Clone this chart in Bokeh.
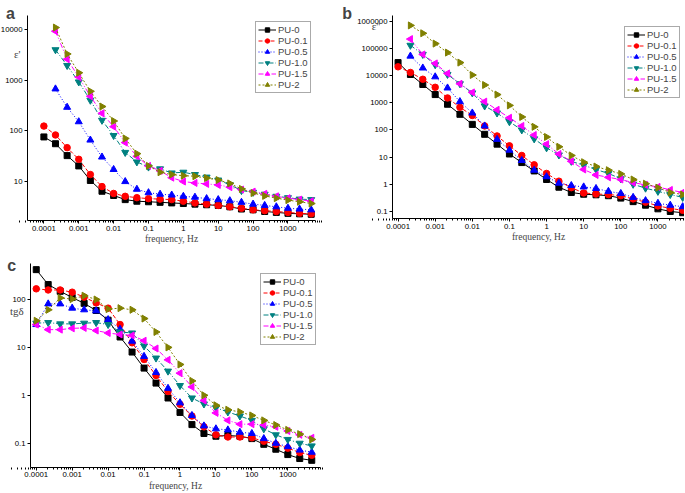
import math
from bokeh.plotting import figure
from bokeh.layouts import column, row
from bokeh.models import Range1d, FixedTicker, NumeralTickFormatter, Label
from bokeh.embed import file_html
from bokeh.resources import INLINE

# ---------------- data ----------------
freq = [0.0001, 0.000215, 0.000464, 0.001, 0.00215, 0.00464, 0.01, 0.0215, 0.0464,
        0.1, 0.215, 0.464, 1, 2.15, 4.64, 10, 21.5, 46.4, 100, 215, 464, 1000, 2150, 4640]

names = ["PU-0", "PU-0.1", "PU-0.5", "PU-1.0", "PU-1.5", "PU-2"]

# panel a: epsilon'  (PU-0.5 ... PU-2 start at the 2nd frequency)
a_pu0 = [75, 55, 32, 20, 10.3, 6.3, 5.2, 4.3, 4.0, 3.9, 3.8, 3.7, 3.6, 3.5, 3.4, 3.3, 3.1, 2.8, 2.7, 2.5, 2.4, 2.3, 2.25, 2.2]
a_pu01 = [123, 82, 46, 27, 13.5, 7.8, 5.7, 5.0, 4.7, 4.5, 4.4, 4.3, 4.0, 3.7, 3.5, 3.3, 3.1, 2.9, 2.7, 2.6, 2.5, 2.4, 2.3, 2.25]
a_pu05 = [670, 290, 150, 65, 30, 17, 9.8, 6.9, 5.9, 5.5, 5.3, 5.0, 4.8, 4.5, 4.3, 4.1, 3.8, 3.5, 3.3, 3.1, 2.9, 2.8, 2.7]
a_pu10 = [4000, 1950, 920, 400, 160, 80, 37, 24, 19, 17.5, 14.5, 15, 13.5, 12, 10.5, 8.5, 6.5, 6.0, 5.5, 5.0, 4.7, 4.4, 4.3]
a_pu15 = [9300, 2600, 1150, 480, 220, 120, 58, 31, 20, 16, 11.7, 9.8, 9.2, 8.8, 8.4, 7.6, 6.8, 6.2, 5.6, 5.0, 4.6, 4.3, 4.0]
a_pu2 = [11000, 3300, 1400, 600, 300, 155, 70, 35, 20, 15, 13.5, 12.8, 12.5, 11.5, 10.5, 9.0, 7.0, 5.8, 5.1, 4.6, 4.2, 3.9, 3.6]

# panel b: epsilon''
b_pu0 = [30000, 11000, 4700, 2000, 880, 375, 160, 69, 30, 13, 6.3, 3.1, 1.5, 0.78, 0.5, 0.43, 0.41, 0.38, 0.31, 0.23, 0.17, 0.125, 0.1, 0.09]
b_pu01 = [21000, 13000, 7300, 3700, 1500, 680, 340, 140, 60, 26, 11.5, 5.2, 2.5, 1.3, 0.75, 0.48, 0.44, 0.42, 0.38, 0.29, 0.22, 0.16, 0.13, 0.11]
b_pu05 = [52000, 19000, 9000, 3500, 1100, 420, 140, 45, 18, 7.5, 3.3, 1.9, 1.1, 0.9, 0.8, 0.7, 0.55, 0.46, 0.33, 0.25, 0.2, 0.17, 0.15]
b_pu10 = [130000, 60000, 25000, 11000, 5000, 2300, 760, 420, 200, 100, 47, 22, 12, 7, 5, 3.5, 2.5, 1.6, 1.0, 0.72, 0.55, 0.42, 0.33]
b_pu15 = [220000, 60000, 28000, 12000, 5000, 2400, 1100, 550, 280, 140, 65, 30, 13, 7, 3.5, 2.2, 1.8, 1.5, 1.15, 0.95, 0.8, 0.62, 0.5]
b_pu2 = [700000, 360000, 150000, 70000, 30000, 10500, 4500, 2000, 800, 300, 130, 55, 24, 11.5, 6.5, 4.5, 3.3, 2.4, 1.5, 1.05, 0.75, 0.5, 0.42]

# panel c: tg delta (all series start at the 1st frequency)
c_pu0 = [420, 205, 148, 110, 83, 59, 37, 16.5, 8, 3.7, 1.8, 0.88, 0.44, 0.245, 0.16, 0.14, 0.145, 0.14, 0.125, 0.095, 0.075, 0.058, 0.048, 0.044]
c_pu01 = [167, 158, 158, 142, 112, 85, 66, 30, 12.5, 5.6, 2.6, 1.2, 0.65, 0.37, 0.22, 0.15, 0.135, 0.135, 0.13, 0.11, 0.095, 0.079, 0.064, 0.056]
c_pu05 = [30, 81, 81, 66, 61, 58, 38, 24, 13.5, 6.5, 3.0, 1.4, 0.7, 0.38, 0.23, 0.2, 0.19, 0.17, 0.16, 0.125, 0.1, 0.085, 0.072, 0.065]
c_pu10 = [32, 33, 31, 31, 32, 33, 30, 21, 20, 10.7, 6.0, 3.2, 1.6, 0.88, 0.66, 0.55, 0.45, 0.37, 0.3, 0.2, 0.15, 0.12, 0.1, 0.088]
c_pu15 = [30, 23.5, 23.5, 25, 25.5, 22.5, 20, 18.6, 17.8, 13.8, 9.5, 5.5, 2.9, 1.5, 0.78, 0.43, 0.3, 0.25, 0.25, 0.24, 0.22, 0.18, 0.15, 0.13]
c_pu2 = [36, 61, 108, 102, 120, 100, 63, 66, 61, 40, 21, 10, 4.4, 2.0, 1.0, 0.62, 0.5, 0.45, 0.38, 0.3, 0.24, 0.19, 0.155, 0.12]

x_major = [0.0001, 0.001, 0.01, 0.1, 1, 10, 100, 1000]
a_yticks = [10, 100, 1000, 10000]
b_yticks = [0.1, 1, 10, 100, 1000, 10000, 100000, 1000000]
c_yticks = [0.1, 1, 10, 100]

# axis extents (log10 of the data value at each end of the drawn axes)
a_xlim, a_ylim = (-4.47, 3.79), (0.22, 4.28)
b_xlim, b_ylim = (-4.15, 3.716), (-1.27, 6.21)
c_xlim, c_ylim = (-4.16, 3.91), (-1.5, 2.745)

# ---------------- styles ----------------
colors = ["#000000", "#ff0000", "#0000ff", "#008080", "#ff00ff", "#808000"]
dashes = ["solid", "4 2", "1 2", "5 2 1 2", "5 2 1 2 1 2", "2 2"]
markers = ["square", "circle", "triangle", "inverted_triangle", "triangle", "triangle"]
angles = [0, 0, 0, 0, math.pi / 2, -math.pi / 2]
msizes = [6, 6.5, 7, 7, 7, 7]

x_minor = [k * d for d in [0.00001, 0.0001, 0.001, 0.01, 0.1, 1, 10, 100, 1000] for k in range(2, 10)]

TICK_FONT = "Liberation Sans"
SERIF = "Liberation Serif"


def full_range(lim, p0, p1, total):
    """Log range spanning the whole canvas so that lim[0] falls at pixel p0 and lim[1] at p1."""
    s = (lim[1] - lim[0]) / (p1 - p0)
    return Range1d(10 ** (lim[0] - p0 * s), 10 ** (lim[1] + (total - p1) * s))


def make_panel(width, height, xlim, ylim, box, yticks, series, starts, legend_xy,
               letter, letter_xy, ylab, ylab_xy):
    # box = (left, right, top, bottom) of the drawn axes in canvas pixels (from top-left)
    left, right, top, bottom = box
    xr = full_range(xlim, left, right, width)
    yr = full_range(ylim, height - bottom, height - top, height)
    p = figure(width=width, height=height, x_axis_type="log", y_axis_type="log",
               x_range=xr, y_range=yr, output_backend="svg", toolbar_location=None,
               min_border_left=0, min_border_right=0, min_border_top=0, min_border_bottom=0)
    p.outline_line_color = None
    p.xgrid.visible = False
    p.ygrid.visible = False
    p.background_fill_color = "white"
    p.border_fill_color = "white"

    for i, (ys, st) in enumerate(zip(series, starts)):
        xs = freq[st:st + len(ys)]
        p.line(xs, ys, line_color=colors[i], line_dash=dashes[i], line_width=1,
               legend_label=names[i])
        p.scatter(xs, ys, marker=markers[i], angle=angles[i], size=msizes[i],
                  fill_color=colors[i], line_color=colors[i], legend_label=names[i])

    x0, x1 = 10 ** xlim[0], 10 ** xlim[1]
    y0, y1 = 10 ** ylim[0], 10 ** ylim[1]
    xa = p.xaxis[0]
    xa.fixed_location = y0
    xa.bounds = (x0, x1)
    xa.ticker = FixedTicker(ticks=x_major, minor_ticks=x_minor)
    xa.formatter = NumeralTickFormatter(format="0.[0000]")
    xa.axis_label = "frequency, Hz"
    xa.axis_label_text_font = SERIF
    xa.axis_label_text_font_size = "9.5px"
    xa.axis_label_text_font_style = "normal"
    xa.axis_label_standoff = 0
    ya = p.yaxis[0]
    ya.fixed_location = x0
    ya.bounds = (y0, y1)
    ya.ticker = FixedTicker(ticks=yticks)
    ya.formatter = NumeralTickFormatter(format="0.[0000]")
    ya.minor_tick_line_color = None
    for ax in (xa, ya):
        ax.major_label_text_font = TICK_FONT
        ax.major_label_text_font_size = "7.8px"
        ax.major_label_text_color = "black"
        ax.major_label_standoff = 2
        ax.major_tick_in = 0
        ax.major_tick_out = 3
        ax.minor_tick_in = 0
        ax.minor_tick_out = 2
        ax.axis_line_color = "black"
        ax.major_tick_line_color = "black"
    xa.minor_tick_line_color = "black"

    lg = p.legend[0]
    lg.location = legend_xy
    lg.label_text_font = TICK_FONT
    lg.label_text_font_size = "9.5px"
    lg.label_height = 11
    lg.glyph_height = 11
    lg.glyph_width = 18
    lg.label_standoff = 2
    lg.spacing = 0
    lg.padding = 2
    lg.margin = 0
    lg.border_line_color = "#555555"
    lg.border_line_width = 1
    lg.background_fill_alpha = 1

    p.add_layout(Label(x=letter_xy[0], y=letter_xy[1], x_units="screen", y_units="screen",
                       text=letter, text_font=TICK_FONT, text_font_style="bold",
                       text_font_size="16px", text_baseline="alphabetic", text_align="left"))
    p.add_layout(Label(x=ylab_xy[0], y=ylab_xy[1], x_units="screen", y_units="screen",
                       text=ylab, text_font=SERIF, text_font_size="11px",
                       text_baseline="middle", text_align="center"))
    return p


pa = make_panel(340, 245, a_xlim, a_ylim, (27, 315, 15, 220), a_yticks,
                [a_pu0, a_pu01, a_pu05, a_pu10, a_pu15, a_pu2], [0, 0, 1, 1, 1, 1], (255, 152),
                "a", (5.5, 232), "\u03b5'", (16.7, 192))
pb = make_panel(344, 245, b_xlim, b_ylim, (52, 344, 15, 218.3), b_yticks,
                [b_pu0, b_pu01, b_pu05, b_pu10, b_pu15, b_pu2], [0, 0, 1, 1, 1, 1], (284, 147),
                "b", (1.7, 231.7), "\u03b5''", (35.5, 219.5))
pc = make_panel(345, 247, c_xlim, c_ylim, (30, 320, 18.3, 221.7), c_yticks,
                [c_pu0, c_pu01, c_pu05, c_pu10, c_pu15, c_pu2], [0, 0, 0, 0, 0, 0], (260, 147),
                "c", (6.7, 227), "tg\u03b4", (16.3, 181.2))

layout = column(row(pa, pb), pc)
open("out.html", "w").write(file_html(layout, INLINE))
